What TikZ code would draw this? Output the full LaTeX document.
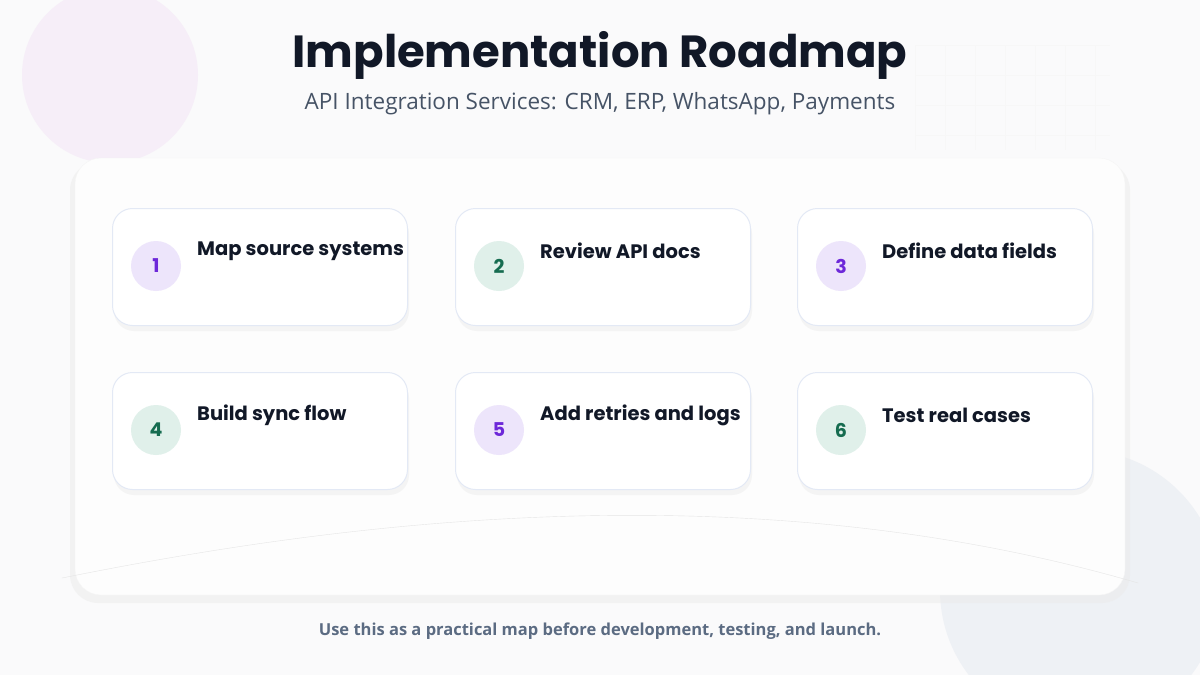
\documentclass[tikz,border=0pt]{standalone}
\usepackage{fontspec}
\setmainfont{Poppins}
\newfontfamily\subfont{Open Sans}
\usetikzlibrary{calc}
\usetikzlibrary{positioning}
\definecolor{bgpaper}{HTML}{FAFAFB}
\definecolor{inkdark}{HTML}{111827}
\definecolor{inksub}{HTML}{465366}
\definecolor{inkfoot}{HTML}{5B6B82}
\definecolor{lilacfill}{HTML}{EDE5FB}
\definecolor{lilacink}{HTML}{6D28D9}
\definecolor{mintfill}{HTML}{E0F0EA}
\definecolor{mintink}{HTML}{166C50}
\definecolor{cardline}{HTML}{E3E9F5}
\tikzset{
  cardbox/.style={draw=cardline, line width=1pt, fill=white, rounded corners=20pt,
    minimum width=295pt, minimum height=117pt, anchor=north west},
  cardshadow/.style={fill=black!10, opacity=.35, rounded corners=20pt},
  badge/.style={circle, minimum size=50pt, inner sep=0pt, font=\fontsize{19}{19}\selectfont\bfseries},
  steptext/.style={anchor=west, inner sep=0pt, text=inkdark, font=\fontsize{19.5}{19.5}\selectfont\bfseries}
}
\begin{document}
\begin{tikzpicture}[x=1pt,y=-1pt]

                \fill[bgpaper] (0,0) rectangle (1200,675);
                \useasboundingbox (0,0) rectangle (1200,675);

                % background decorations
                \fill[color={rgb,255:red,246;green,238;blue,248}] (110,75) circle (88);
                \fill[color={rgb,255:red,238;green,241;blue,245}] (1080,590) circle (140);
                \foreach \gx in {915,945,...,1110} \draw[black!3] (\gx,45) -- (\gx,150);
                \foreach \gy in {45,75,...,150} \draw[black!3] (915,\gy) -- (1110,\gy);

                \node[text=inkdark, font=\fontsize{45}{45}\selectfont\bfseries] (title) at (600,55) {Implementation Roadmap};
                \node[text=inksub, font=\subfont\fontsize{22.5}{22.5}\selectfont] (subtitle) at (600,104) {API Integration Services: CRM, ERP, WhatsApp, Payments};

                % main panel
                \fill[black!8, opacity=.5, rounded corners=28pt] (70,162) rectangle (1130,603);
                \filldraw[fill=white!60!bgpaper, draw=black!4, rounded corners=26pt] (75,158) rectangle (1125,595) coordinate (panel);
                \draw[black!10] (62,578) .. controls (350,520) and (750,470) .. (1138,583);

                % steps
                \foreach \n/\cx/\cy/\lbl/\tone in {
                    1/112/208/Map source systems/lilac,
                    2/455/208/Review API docs/mint,
                    3/797/208/Define data fields/lilac,
                    4/112/372/Build sync flow/mint,
                    5/455/372/Add retries and logs/lilac,
                    6/797/372/Test real cases/mint}{
                  \fill[cardshadow] (\cx+2,\cy+6) rectangle ++(295,117);
                  \node[cardbox] (card\n) at (\cx,\cy) {};
                  \node[badge, fill=\tone fill, text=\tone ink] (badge\n) at (\cx+44,\cy+58) {\n};
                  \node[steptext] (label\n) at (\cx+85,\cy+43) {\lbl};
                }

                \node[text=inkfoot, font=\subfont\fontsize{16.5}{16.5}\selectfont\bfseries] (footer) at (600,631) {Use this as a practical map before development, testing, and launch.};

            \end{tikzpicture}
\end{document}
